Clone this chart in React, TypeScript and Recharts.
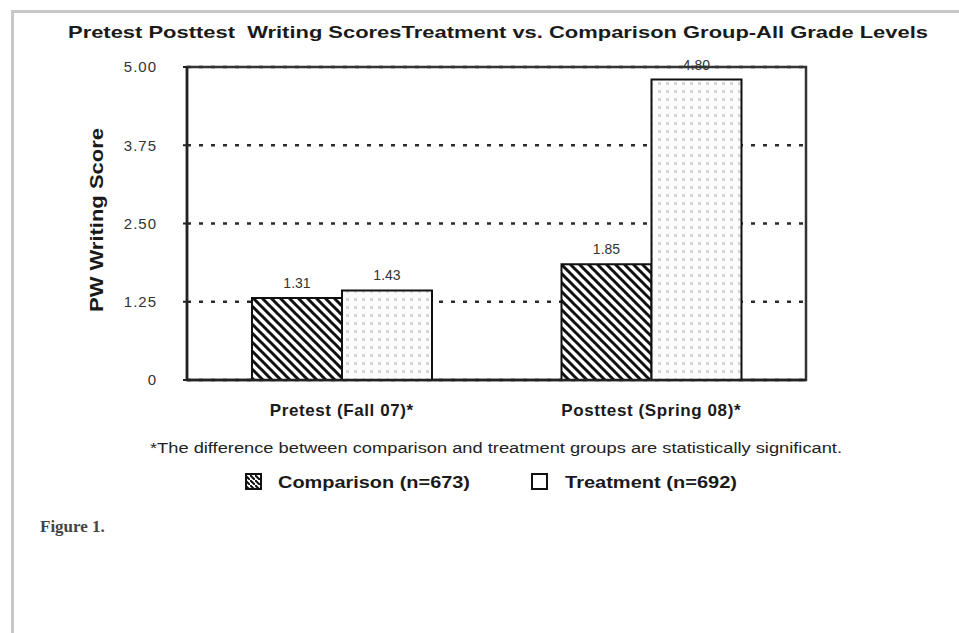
import React from 'react';
import { BarChart, Bar, XAxis, YAxis, CartesianGrid, LabelList, ReferenceArea } from 'recharts';

const categories = ['Pretest (Fall 07)*', 'Posttest (Spring 08)*'];
const comparison = [1.31, 1.85];
const treatment = [1.43, 4.8];
const yTicks = [0, 1.25, 2.5, 3.75, 5];

const data = categories.map((name, i) => ({
  name,
  comparison: comparison[i],
  treatment: treatment[i],
}));

const FONT = '"Liberation Sans", Arial, sans-serif';

const XTick = (props: any) => {
  const { x, y, payload } = props;
  return (
    <text x={x} y={y} dy="0.71em" textAnchor="middle" fontFamily={FONT} fontWeight="bold" fontSize={17} letterSpacing={0.6} fill="#1a1a1a">
      {payload.value}
    </text>
  );
};

const fmtY = (v: number) => (v === 0 ? '0' : v.toFixed(2));
const fmtLabel = (v: any) => Number(v).toFixed(2);

const App: React.FC = () => {
  return (
    <div style={{ position: 'absolute', left: 0, top: 0, width: 959, height: 633, background: '#fff', overflow: 'hidden' }}>
      {/* scanned page frame */}
      <div style={{ position: 'absolute', left: 11, top: 10, width: 960, height: 640, borderLeft: '3px solid #c8c8c8', borderTop: '3px solid #c8c8c8' }} />

      <div style={{ position: 'absolute', left: 0, top: 0 }}>
        <BarChart
          width={959}
          height={633}
          data={data}
          margin={{ top: 67, right: 153, bottom: 223, left: 127 }}
          barCategoryGap="21%"
          barGap={0}
        >
          <defs>
            <pattern id="hatch" width="9" height="9" patternUnits="userSpaceOnUse">
              <rect width="9" height="9" fill="#fff" />
              <path d="M-1,-1 L10,10 M-1,8 L1,10 M8,-1 L10,1" stroke="#111" strokeWidth="3" />
            </pattern>
            <pattern id="dots" width="8" height="8" patternUnits="userSpaceOnUse">
              <rect width="8" height="8" fill="#fcfcfc" />
              <rect x="2" y="2" width="3" height="3" fill="#d8d8d8" />
            </pattern>
          </defs>
          <CartesianGrid horizontal vertical={false} stroke="#2a2a2a" strokeWidth={2.5} strokeDasharray="4 8" />
          <ReferenceArea y1={0} y2={5} fill="none" stroke="#333" strokeWidth={2.5} fillOpacity={0} />
          <XAxis
            dataKey="name"
            tick={<XTick />}
            tickLine={false}
            tickMargin={18}
            axisLine={{ stroke: '#222', strokeWidth: 2.5 }}
            height={30}
          />
          <YAxis
            domain={[0, 5]}
            ticks={yTicks}
            tickFormatter={fmtY}
            interval={0}
            width={60}
            tickSize={4}
            tickMargin={26}
            tick={{ fontFamily: FONT, fontSize: 15, letterSpacing: 1, fill: '#333' }}
            axisLine={{ stroke: '#222', strokeWidth: 2.5 }}
            tickLine={{ stroke: '#222', strokeWidth: 2 }}
          />
          <Bar dataKey="comparison" fill="url(#hatch)" stroke="#111" strokeWidth={2} isAnimationActive={false}>
            <LabelList dataKey="comparison" position="top" offset={10} formatter={fmtLabel} style={{ fontFamily: FONT, fontSize: 14, fill: '#333' }} />
          </Bar>
          <Bar dataKey="treatment" fill="url(#dots)" stroke="#111" strokeWidth={2} isAnimationActive={false}>
            <LabelList dataKey="treatment" position="top" offset={10} formatter={fmtLabel} style={{ fontFamily: FONT, fontSize: 14, fill: '#333' }} />
          </Bar>
        </BarChart>
      </div>

      <svg width={959} height={633} style={{ position: 'absolute', left: 0, top: 0, pointerEvents: 'none' }}>
        <defs>
          <pattern id="hatchLegend" width="5" height="5" patternUnits="userSpaceOnUse">
            <path d="M-1,-1 L6,6" stroke="#111" strokeWidth="2" />
          </pattern>
        </defs>
        <text x={68} y={38} textLength={860} lengthAdjust="spacingAndGlyphs" fontFamily={FONT} fontWeight="bold" fontSize={17} fill="#1a1a1a" style={{ whiteSpace: 'pre' }}>
          {'Pretest Posttest  Writing ScoresTreatment vs. Comparison Group-All Grade Levels'}
        </text>
        <text
          transform="translate(103,220) rotate(-90)"
          textAnchor="middle"
          textLength={184}
          lengthAdjust="spacingAndGlyphs"
          fontFamily={FONT}
          fontWeight="bold"
          fontSize={18}
          fill="#1a1a1a"
        >
          PW Writing Score
        </text>
        <text x={150} y={453} textLength={692} lengthAdjust="spacingAndGlyphs" fontFamily={FONT} fontSize={14} fill="#222">
          *The difference between comparison and treatment groups are statistically significant.
        </text>

        {/* legend */}
        <rect x={246} y={474} width={15} height={15} fill="url(#hatchLegend)" stroke="#111" strokeWidth={2} />
        <text x={278} y={488} textLength={192} lengthAdjust="spacingAndGlyphs" fontFamily={FONT} fontWeight="bold" fontSize={17} fill="#1a1a1a">
          Comparison (n=673)
        </text>
        <rect x={532} y={474} width={15} height={15} fill="#fff" stroke="#111" strokeWidth={2} />
        <text x={565} y={488} textLength={172} lengthAdjust="spacingAndGlyphs" fontFamily={FONT} fontWeight="bold" fontSize={17} fill="#1a1a1a">
          Treatment (n=692)
        </text>

        <text x={40} y={532} fontFamily='"Liberation Serif", "Times New Roman", serif' fontSize={17} fontWeight="bold" fill="#444">
          Figure 1.
        </text>
      </svg>
    </div>
  );
};

export default App;
